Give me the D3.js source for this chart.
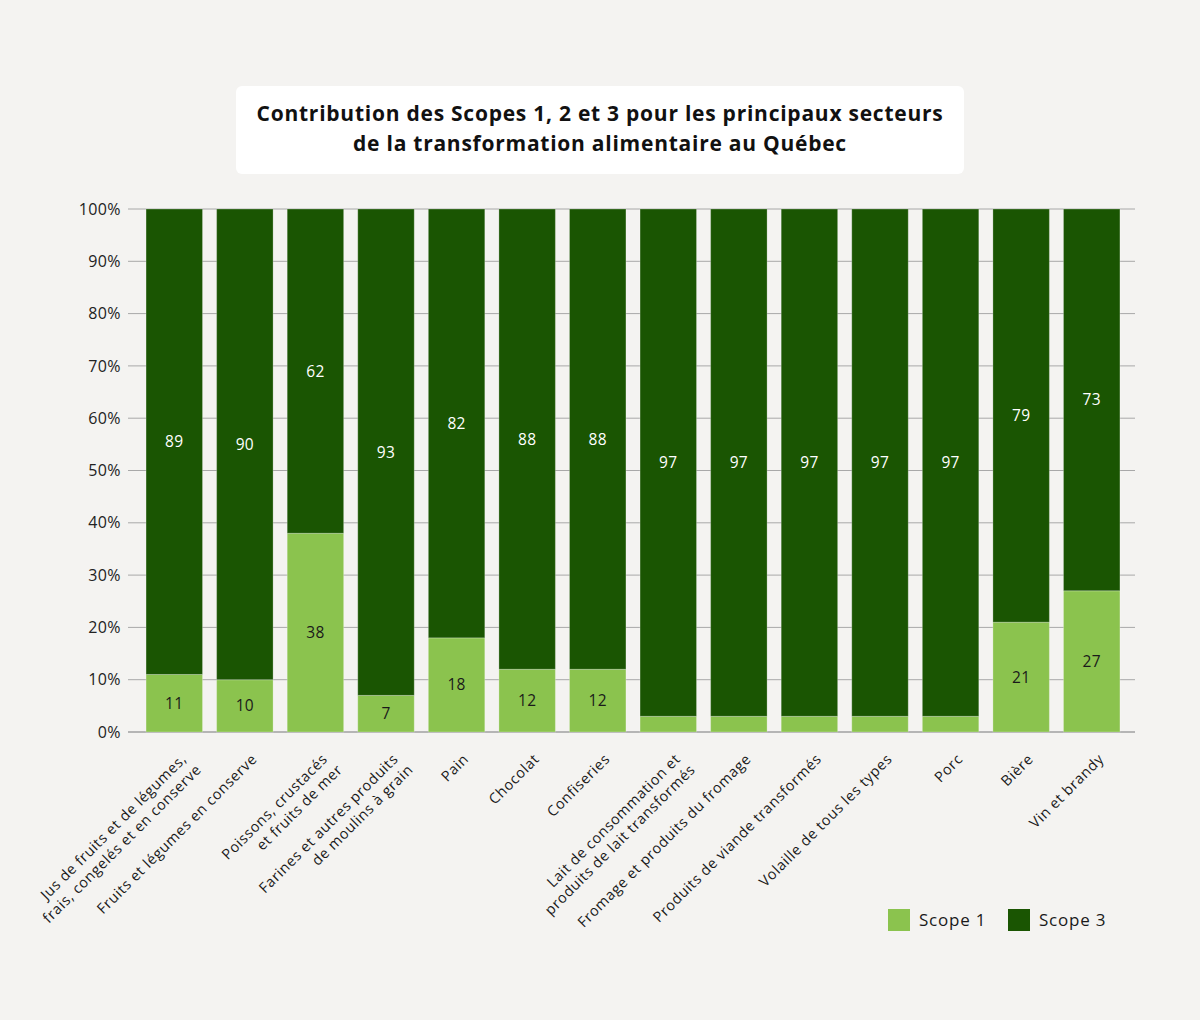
<!DOCTYPE html>
<html><head><meta charset="utf-8">
<script src="https://cdn.jsdelivr.net/npm/d3@7"></script>
<style>
html,body{margin:0;padding:0;background:#f4f3f1;}
svg{display:block;font-family:"Open Sans",sans-serif;}
</style></head>
<body>
<svg id="chart" width="1200" height="1020"></svg>
<script>
const categories = [
  ["Jus de fruits et de légumes,", "frais, congelés et en conserve"],
  ["Fruits et légumes en conserve"],
  ["Poissons, crustacés", "et fruits de mer"],
  ["Farines et autres produits", "de moulins à grain"],
  ["Pain"],
  ["Chocolat"],
  ["Confiseries"],
  ["Lait de consommation et", "produits de lait transformés"],
  ["Fromage et produits du fromage"],
  ["Produits de viande transformés"],
  ["Volaille de tous les types"],
  ["Porc"],
  ["Bière"],
  ["Vin et brandy"]
];
const scope1 = [11, 10, 38, 7, 18, 12, 12, 3, 3, 3, 3, 3, 21, 27];
const scope3 = [89, 90, 62, 93, 82, 88, 88, 97, 97, 97, 97, 97, 79, 73];
const yTicks = [0, 10, 20, 30, 40, 50, 60, 70, 80, 90, 100];
const seriesNames = ["Scope 1", "Scope 3"];
const titleLines = ["Contribution des Scopes 1, 2 et 3 pour les principaux secteurs",
                    "de la transformation alimentaire au Québec"];

const colors = {"Scope 1": "#8bc34e", "Scope 3": "#1a5502"};
const svg = d3.select("#chart");

// title box
svg.append("rect").attr("x", 236).attr("y", 86).attr("width", 728).attr("height", 88)
  .attr("rx", 6).attr("fill", "#ffffff");
svg.append("text").attr("x", 600).attr("y", 121).attr("text-anchor", "middle")
  .attr("font-size", 21).attr("font-weight", 700).attr("fill", "#111")
  .attr("letter-spacing", 0.75)
  .selectAll("tspan").data(titleLines).join("tspan")
  .attr("x", 600).attr("dy", (d, i) => i ? 30 : 0).text(d => d);

const x = d3.scaleBand().domain(d3.range(categories.length))
  .range([139, 1127]).paddingInner(0.2).paddingOuter(0.1);
const y = d3.scaleLinear().domain([0, 100]).range([732, 209]);

// gridlines
svg.append("g").selectAll("line").data(yTicks).join("line")
  .attr("x1", 128).attr("x2", 1135)
  .attr("y1", d => y(d)).attr("y2", d => y(d))
  .attr("stroke", d => d === 0 ? "#b5b5b5" : "#a8a8a8")
  .attr("stroke-width", d => d === 0 ? 2 : 1);

// y axis labels
const yAxis = d3.axisLeft(y).tickValues(yTicks).tickFormat(d => d + "%").tickSize(0).tickPadding(0);
const ya = svg.append("g").attr("transform", "translate(121,0)").call(yAxis);
ya.select(".domain").remove();
ya.selectAll("text").attr("font-size", 16).attr("fill", "#222")
  .attr("letter-spacing", 0.4).attr("font-family", "Open Sans, sans-serif");

// stacked data
const rows = categories.map((c, i) => ({i, "Scope 1": scope1[i], "Scope 3": scope3[i]}));
const stack = d3.stack().keys(seriesNames)(rows);

const layers = svg.append("g").selectAll("g").data(stack).join("g")
  .attr("fill", d => colors[d.key]);
layers.selectAll("rect").data(d => d).join("rect")
  .attr("x", d => x(d.data.i)).attr("width", x.bandwidth())
  .attr("y", d => y(d[1])).attr("height", d => y(d[0]) - y(d[1]))
  .attr("stroke", "rgba(255,255,255,0.25)").attr("stroke-width", 1);

// value labels
stack.forEach(layer => {
  svg.append("g").selectAll("text").data(layer.filter(d => d[1] - d[0] >= 5)).join("text")
    .attr("x", d => x(d.data.i) + x.bandwidth() / 2)
    .attr("y", d => y((d[0] + d[1]) / 2))
    .attr("dy", "0.35em").attr("text-anchor", "middle")
    .attr("font-size", 15.5).attr("letter-spacing", 0.3)
    .attr("fill", layer.key === "Scope 3" ? "#ffffff" : "#1a1a1a")
    .text(d => d[1] - d[0]);
});

// category labels
const cl = svg.append("g").selectAll("text").data(categories).join("text")
  .attr("transform", (d, i) => `translate(${x(i) + x.bandwidth() / 2 + 13},${760}) rotate(-45)`)
  .attr("text-anchor", "end").attr("font-size", 14.5).attr("letter-spacing", 0.6)
  .attr("fill", "#1a1a1a");
cl.selectAll("tspan").data(d => d).join("tspan")
  .attr("x", (d, i) => i ? 3 : 0).attr("dy", (d, i) => i ? 18 : 0).text(d => d);

// legend
const leg = svg.append("g").selectAll("g").data(seriesNames).join("g")
  .attr("transform", (d, i) => `translate(${[888, 1008][i]},909)`);
leg.append("rect").attr("width", 22).attr("height", 22).attr("fill", d => colors[d]);
leg.append("text").attr("x", 31).attr("y", 11).attr("dy", "0.35em")
  .attr("font-size", 17).attr("letter-spacing", 0.8).attr("fill", "#1a1a1a").text(d => d);
</script>
</body></html>
